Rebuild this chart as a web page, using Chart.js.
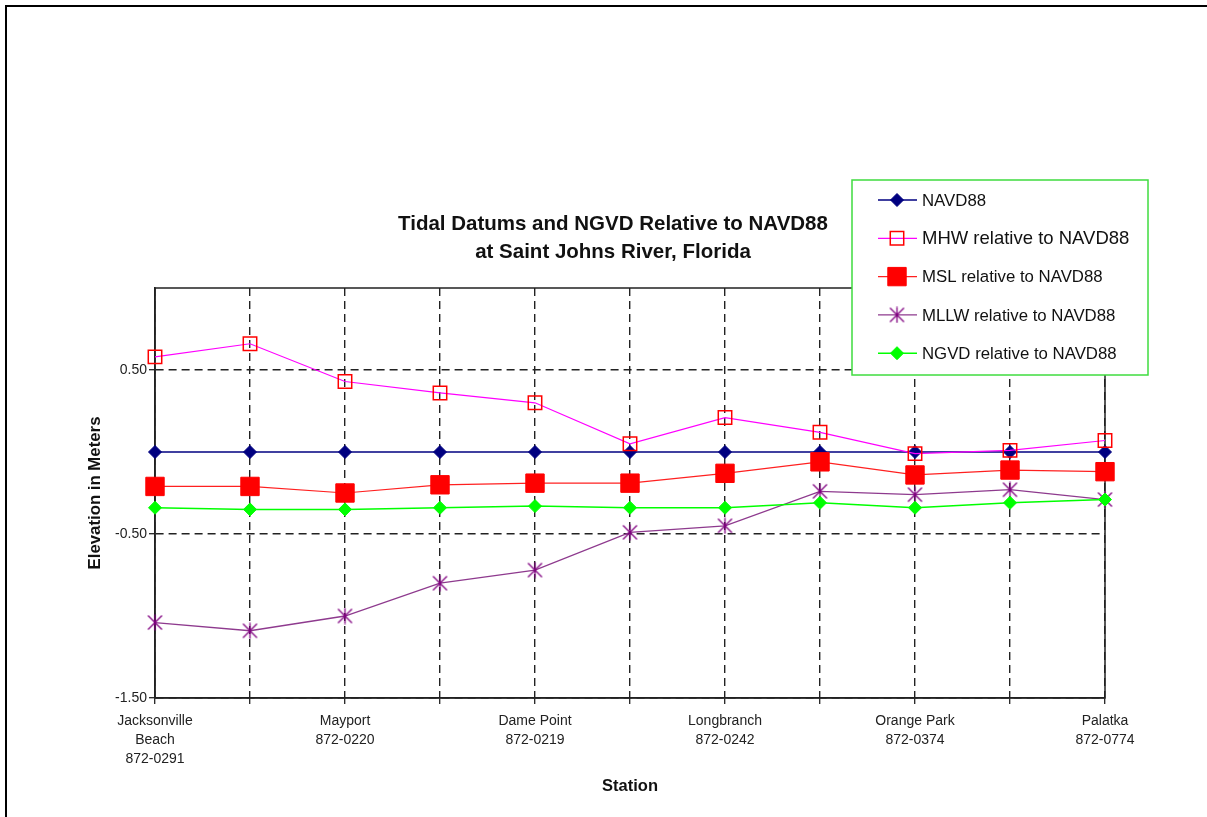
<!DOCTYPE html>
<html>
<head>
<meta charset="utf-8">
<title>Tidal Datums and NGVD Relative to NAVD88</title>
<script src="https://cdn.jsdelivr.net/npm/chart.js"></script>
<style>
  html, body { margin: 0; padding: 0; background: #fff; overflow: hidden; }
  #wrap { position: relative; width: 1207px; height: 817px; }
  #tideChart { display: block; }
  #frame { position: absolute; left: 5px; top: 5px; width: 1230px; height: 830px;
           border-left: 2.5px solid #000; border-top: 2.5px solid #000; pointer-events: none; }
</style>
</head>
<body>
<div id="wrap">
  <canvas id="tideChart" width="1207" height="817"></canvas>
  <div id="frame"></div>
</div>
<script>
// ===== data =====
const stations = [
  ["Jacksonville", "Beach", "872-0291"], "",
  ["Mayport", "872-0220"], "",
  ["Dame Point", "872-0219"], "",
  ["Longbranch", "872-0242"], "",
  ["Orange Park", "872-0374"], "",
  ["Palatka", "872-0774"]
];
const navd88 = [0, 0, 0, 0, 0, 0, 0, 0, 0, 0, 0];
const mhw    = [0.58, 0.66, 0.43, 0.36, 0.30, 0.05, 0.21, 0.12, -0.01, 0.01, 0.07];
const msl    = [-0.21, -0.21, -0.25, -0.20, -0.19, -0.19, -0.13, -0.06, -0.14, -0.11, -0.12];
const mllw   = [-1.04, -1.09, -1.00, -0.80, -0.72, -0.49, -0.45, -0.24, -0.26, -0.23, -0.29];
const ngvd   = [-0.34, -0.35, -0.35, -0.34, -0.33, -0.34, -0.34, -0.31, -0.34, -0.31, -0.29];
const yTicks = [-1.5, -0.5, 0.5];
const titleLines = ["Tidal Datums and NGVD Relative to NAVD88", "at Saint Johns River, Florida"];

const FONT = "'Liberation Sans', Arial, Helvetica, sans-serif";
Chart.defaults.font.family = FONT;
Chart.defaults.color = "#222";

// Excel style star marker (X plus vertical bar)
function makeStar(color) {
  const c = document.createElement("canvas");
  c.width = 17; c.height = 17;
  const g = c.getContext("2d");
  g.strokeStyle = color;
  g.lineWidth = 1.3;
  g.beginPath();
  g.moveTo(1.5, 1.5); g.lineTo(15.5, 15.5);
  g.moveTo(15.5, 1.5); g.lineTo(1.5, 15.5);
  g.moveTo(8.5, 0.5); g.lineTo(8.5, 16.5);
  g.stroke();
  g.fillStyle = color;
  g.fillRect(7.5, 7.5, 2, 2);
  return c;
}
const starMark = makeStar("#800080");

// marker for the legend (same shapes as the chart)
function legendMark(ctx, ds, x, y) {
  const st = ds.pointStyle, r = ds.pointRadius;
  if (typeof st !== "string") {
    ctx.drawImage(st, x - st.width / 2, y - st.height / 2);
    return;
  }
  ctx.beginPath();
  if (st === "rect") {
    const h = r * Math.SQRT1_2;
    ctx.rect(x - h, y - h, 2 * h, 2 * h);
  } else {
    ctx.moveTo(x - r, y); ctx.lineTo(x, y - r); ctx.lineTo(x + r, y); ctx.lineTo(x, y + r);
    ctx.closePath();
  }
  ctx.fill();
  ctx.stroke();
}

// ===== plugins =====
const plotFrame = {
  id: "plotFrame",
  beforeDatasetsDraw(chart) {
    const a = chart.chartArea, ctx = chart.ctx;
    ctx.save();
    ctx.strokeStyle = "#222";
    ctx.lineWidth = 1.5;
    ctx.strokeRect(a.left, a.top, a.right - a.left, a.bottom - a.top);
    ctx.restore();
  }
};

const titleText = {
  id: "titleText",
  afterDraw(chart) {
    const ctx = chart.ctx;
    ctx.save();
    ctx.fillStyle = "#111";
    ctx.font = "bold 20.5px " + FONT;
    ctx.textAlign = "center";
    ctx.textBaseline = "middle";
    ctx.fillText(titleLines[0], 613, 224);
    ctx.fillText(titleLines[1], 613, 252);
    ctx.restore();
  }
};

const legendBox = {
  id: "legendBox",
  afterDraw(chart) {
    const ctx = chart.ctx;
    ctx.save();
    ctx.fillStyle = "#fff";
    ctx.fillRect(852, 180, 296, 195);
    ctx.strokeStyle = "#3fdc3f";
    ctx.lineWidth = 1.5;
    ctx.strokeRect(852, 180, 296, 195);
    chart.data.datasets.forEach((ds, i) => {
      const y = 200 + i * 38.3;
      ctx.strokeStyle = ds.borderColor;
      ctx.lineWidth = ds.borderWidth;
      ctx.beginPath();
      ctx.moveTo(878, y);
      ctx.lineTo(917, y);
      ctx.stroke();
      ctx.fillStyle = ds.pointBackgroundColor;
      ctx.strokeStyle = ds.pointBorderColor;
      ctx.lineWidth = ds.pointBorderWidth;
      legendMark(ctx, ds, 897, y);
      ctx.fillStyle = "#111";
      ctx.font = (i === 1 ? "18.5px " : "16.8px ") + FONT;
      ctx.textAlign = "left";
      ctx.textBaseline = "middle";
      ctx.fillText(ds.label, 922, y + 1);
    });
    ctx.restore();
  }
};

// ===== chart =====
const seriesStyle = (label, data, line, point) => Object.assign({
  label, data,
  borderColor: line.color,
  borderWidth: line.width,
  tension: 0,
  fill: false
}, point);

new Chart(document.getElementById("tideChart"), {
  type: "line",
  data: {
    labels: stations,
    datasets: [
      seriesStyle("NAVD88", navd88, { color: "#000080", width: 1.5 },
        { pointStyle: "rectRot", pointRadius: 6.5, pointBackgroundColor: "#000080", pointBorderColor: "#000080", pointBorderWidth: 1, order: 4 }),
      seriesStyle("MHW relative to NAVD88", mhw, { color: "#ff00ff", width: 1.2 },
        { pointStyle: "rect", pointRadius: 9.5, pointBackgroundColor: "rgba(0,0,0,0)", pointBorderColor: "#ff0000", pointBorderWidth: 1.5, order: 3 }),
      seriesStyle("MSL relative to NAVD88", msl, { color: "#ff2020", width: 1.2 },
        { pointStyle: "rect", pointRadius: 13, pointBackgroundColor: "#ff0000", pointBorderColor: "#ff0000", pointBorderWidth: 1, order: 2 }),
      seriesStyle("MLLW relative to NAVD88", mllw, { color: "#8e3a8e", width: 1.3 },
        { pointStyle: starMark, pointRadius: 8, pointBackgroundColor: "#800080", pointBorderColor: "#800080", pointBorderWidth: 1, order: 1 }),
      seriesStyle("NGVD relative to NAVD88", ngvd, { color: "#00ff00", width: 1.5 },
        { pointStyle: "rectRot", pointRadius: 6.5, pointBackgroundColor: "#00ff00", pointBorderColor: "#00ff00", pointBorderWidth: 1, order: 0 })
    ]
  },
  options: {
    responsive: false,
    devicePixelRatio: 1,
    animation: false,
    layout: { padding: { left: 0, right: 102, top: 288, bottom: 0 } },
    plugins: {
      legend: { display: false },
      title: { display: false },
      tooltip: { enabled: false }
    },
    scales: {
      x: {
        offset: false,
        afterFit: s => { s.height = 119; },
        grid: {
          color: "#222", lineWidth: 1.4,
          tickLength: 6, tickColor: "#222", tickWidth: 1.3, tickBorderDash: []
        },
        border: { display: true, color: "#222", width: 1.6, dash: [8, 5] },
        ticks: {
          autoSkip: false, maxRotation: 0, minRotation: 0, padding: 8,
          font: { size: 14, lineHeight: 1.36 }, color: "#222"
        },
        title: {
          display: true, text: "Station", color: "#111",
          font: { size: 16.5, weight: "bold" }, padding: { top: 0, bottom: 21 }
        }
      },
      y: {
        min: -1.5,
        max: 1.0,
        afterFit: s => { s.width = 155; },
        afterBuildTicks: s => { s.ticks = yTicks.map(v => ({ value: v })); },
        grid: {
          color: "#222", lineWidth: 1.4,
          tickLength: 6, tickColor: "#222", tickWidth: 1.3, tickBorderDash: []
        },
        border: { display: true, color: "#222", width: 1.6, dash: [8, 5] },
        ticks: {
          padding: 2, font: { size: 14 }, color: "#222",
          callback: v => Number(v).toFixed(2)
        },
        title: {
          display: true, text: "Elevation in Meters", color: "#111",
          font: { size: 16.8, weight: "bold" }, padding: { top: 85, bottom: 0 }
        }
      }
    }
  },
  plugins: [plotFrame, titleText, legendBox]
});
</script>
</body>
</html>
